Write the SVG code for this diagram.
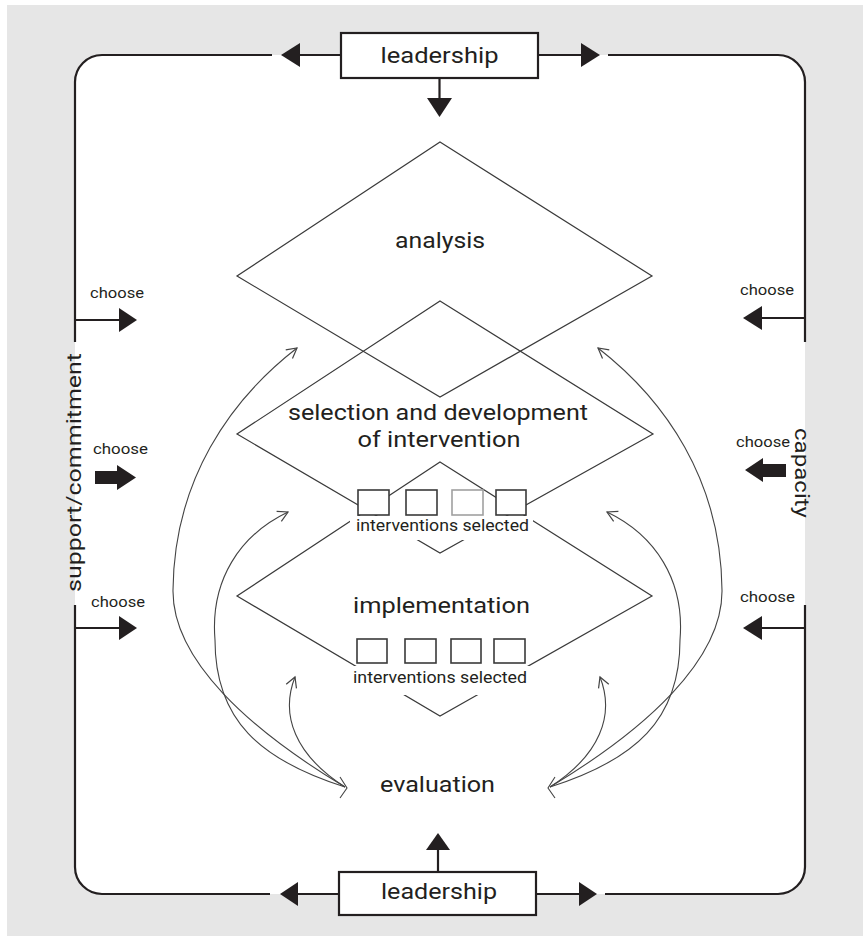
<svg xmlns="http://www.w3.org/2000/svg" width="863" height="936" viewBox="0 0 863 936">
<style>
.bg{fill:#e6e6e6}
.frame{fill:none;stroke:#231f20;stroke-width:2.2}
.thick{fill:none;stroke:#231f20;stroke-width:2.2}
.head{fill:#231f20;stroke:none}
.dia{fill:none;stroke:#3a3a3a;stroke-width:1.2}
.curve{fill:none;stroke:#444;stroke-width:1.1}
.box{fill:#fff;stroke:#3a3a3a;stroke-width:1.6}
.lbox{fill:#fff;stroke:#231f20;stroke-width:2.2}
.wb{fill:#fff;stroke:none}
.t{font-family:Roboto,"Liberation Sans",sans-serif;fill:#231f20;font-weight:400}
.big{font-size:22px}
.small{font-size:16px}
.ch{font-size:15px}
.side{font-size:20px}
</style>
<defs>
<marker id="oa" viewBox="-12 -7 14 14" refX="0" refY="0" markerWidth="14" markerHeight="14" markerUnits="userSpaceOnUse" orient="auto">
<path d="M-10,-5.5 L0,0 L-10,5.5" fill="none" stroke="#444" stroke-width="1.2"/>
</marker>
</defs>

<rect x="0" y="0" width="863" height="936" fill="#fff"/>
<rect class="bg" x="7" y="5" width="856" height="931"/>
<rect x="75" y="55" width="730" height="839" rx="27" fill="#fff"/>

<g id="frame">
<path class="frame" d="M272,55 H102 A27,27 0 0 0 75,82 V342"/>
<path class="frame" d="M608,55 H778 A27,27 0 0 1 805,82 V342"/>
<path class="frame" d="M75,605 V867 A27,27 0 0 0 102,894 H270"/>
<path class="frame" d="M805,605 V867 A27,27 0 0 1 778,894 H605"/>
</g>

<g id="diamonds-lines">
<polygon id="analysis-shape" class="dia" points="440,142 652,276 440,397 237,276"/>
<polygon id="selection-shape" class="dia" points="440,301 653,434 440,553 237,434"/>
<polygon id="implementation-shape" class="dia" points="440,462 652,596 440,716 237,596"/>
</g>

<g id="connectors">
<line class="thick" x1="300" y1="55" x2="341" y2="55"/>
<polygon class="head" points="281,55 300,43 300,67"/>
<line class="thick" x1="538" y1="55" x2="581" y2="55"/>
<polygon class="head" points="600,55 581,43 581,67"/>
<line class="thick" x1="439.5" y1="78" x2="439.5" y2="98"/>
<polygon class="head" points="439.5,117 427,98 452,98"/>

<line class="thick" x1="298" y1="894" x2="339" y2="894"/>
<polygon class="head" points="280,894 298,882 298,906"/>
<line class="thick" x1="536" y1="894" x2="579" y2="894"/>
<polygon class="head" points="597,894 579,882 579,906"/>
<line class="thick" x1="438" y1="872" x2="438" y2="850"/>
<polygon class="head" points="438,833 426,850 450,850"/>

<line class="thick" x1="75" y1="320" x2="119" y2="320"/>
<polygon class="head" points="137,320 119,308 119,332"/>
<polygon class="head" points="95,471 117,471 117,465 136,477.5 117,490 117,484 95,484"/>
<line class="thick" x1="75" y1="628" x2="119" y2="628"/>
<polygon class="head" points="137,628 119,616 119,640"/>

<line class="thick" x1="805" y1="318" x2="762" y2="318"/>
<polygon class="head" points="743,318 762,306 762,330"/>
<polygon class="head" points="745,470 763,458 763,464 786,464 786,477 763,477 763,482"/>
<line class="thick" x1="805" y1="628" x2="762" y2="628"/>
<polygon class="head" points="743,628 762,616 762,640"/>

<path class="curve" marker-end="url(#oa)" d="M345,787 C250,730 172,660 173,590 C174,480 230,400 297,348"/>
<path class="curve" marker-end="url(#oa)" d="M345,787 C260,760 215,720 215,640 C210,580 240,535 288,512"/>
<path class="curve" marker-end="url(#oa)" d="M345,787 C295,755 280,715 295,677"/>
<path class="curve" marker-end="url(#oa)" d="M550,787 C645,730 723,660 722,590 C721,480 665,400 598,348"/>
<path class="curve" marker-end="url(#oa)" d="M550,787 C635,760 680,720 680,640 C685,580 655,535 607,512"/>
<path class="curve" marker-end="url(#oa)" d="M550,787 C600,755 615,715 600,677"/>
<path class="curve" d="M340,777 L347,788 L340,798"/>
<path class="curve" d="M555,777 L548,788 L555,798"/>
</g>

<g id="leadership-top">
<rect class="lbox" x="341" y="33" width="197" height="45"/>
<text class="t big" x="439.5" y="63" text-anchor="middle" textLength="118" lengthAdjust="spacingAndGlyphs">leadership</text>
</g>
<g id="leadership-bottom">
<rect class="lbox" x="339" y="872" width="197" height="43"/>
<text class="t big" x="439" y="899" text-anchor="middle" textLength="116" lengthAdjust="spacingAndGlyphs">leadership</text>
</g>

<g id="analysis">
<text class="t big" x="440" y="248" text-anchor="middle" textLength="90" lengthAdjust="spacingAndGlyphs">analysis</text>
</g>

<g id="selection">
<text class="t big" x="438" y="420" text-anchor="middle" textLength="300" lengthAdjust="spacingAndGlyphs">selection and development</text>
<text class="t big" x="439" y="447" text-anchor="middle" textLength="163" lengthAdjust="spacingAndGlyphs">of intervention</text>
</g>

<g id="interventions-1">
<rect class="wb" x="350" y="516" width="183" height="24"/>
<rect class="box" x="358" y="490" width="31" height="25"/>
<rect class="box" x="406" y="490" width="31" height="25"/>
<rect class="box" x="452" y="490" width="31" height="25" style="stroke:#a0a0a0"/>
<rect class="box" x="496" y="490" width="30" height="25"/>
<text class="t small" x="442.5" y="531" text-anchor="middle" textLength="173" lengthAdjust="spacingAndGlyphs">interventions selected</text>
</g>

<g id="implementation">
<text class="t big" x="441.5" y="613" text-anchor="middle" textLength="177" lengthAdjust="spacingAndGlyphs">implementation</text>
</g>

<g id="interventions-2">
<rect class="wb" x="350" y="666" width="182" height="29"/>
<rect class="box" x="357" y="639" width="30" height="24"/>
<rect class="box" x="405" y="639" width="31" height="24"/>
<rect class="box" x="451" y="639" width="30" height="24"/>
<rect class="box" x="494" y="639" width="31" height="24"/>
<text class="t small" x="440" y="683" text-anchor="middle" textLength="174" lengthAdjust="spacingAndGlyphs">interventions selected</text>
</g>

<g id="evaluation">
<text class="t big" x="437.5" y="792" text-anchor="middle" textLength="115" lengthAdjust="spacingAndGlyphs">evaluation</text>
</g>

<g id="support">
<text class="t side" transform="translate(81,592) rotate(-90)" textLength="239" lengthAdjust="spacingAndGlyphs">support/commitment</text>
</g>
<g id="capacity">
<text class="t side" transform="translate(795,428) rotate(90)" textLength="90" lengthAdjust="spacingAndGlyphs">capacity</text>
</g>

<g id="choose-labels">
<text class="t ch" x="90" y="298" textLength="54" lengthAdjust="spacingAndGlyphs">choose</text>
<text class="t ch" x="93" y="454" textLength="55" lengthAdjust="spacingAndGlyphs">choose</text>
<text class="t ch" x="91" y="607" textLength="54" lengthAdjust="spacingAndGlyphs">choose</text>
<text class="t ch" x="740" y="295" textLength="54" lengthAdjust="spacingAndGlyphs">choose</text>
<text class="t ch" x="736" y="447" textLength="54" lengthAdjust="spacingAndGlyphs">choose</text>
<text class="t ch" x="740" y="602" textLength="55" lengthAdjust="spacingAndGlyphs">choose</text>
</g>
</svg>
